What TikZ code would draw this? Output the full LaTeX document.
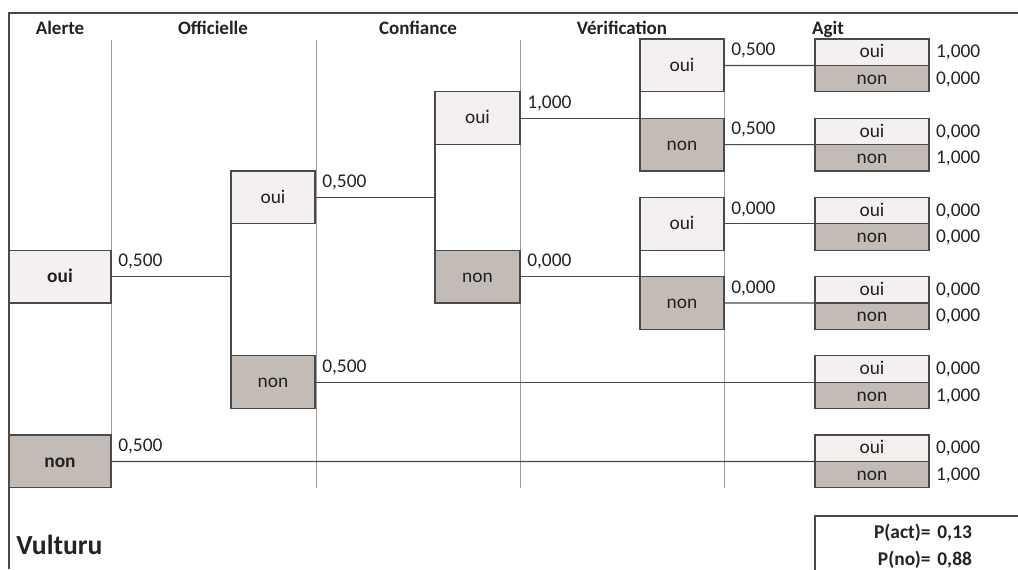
\documentclass[tikz,border=0pt]{standalone}
\usepackage{fontspec}
\setmainfont{Carlito}
\usepackage{tikz}
\usetikzlibrary{positioning}
\definecolor{vlight}{HTML}{F4F0EF}
\definecolor{vdark}{HTML}{C3BBB5}
\definecolor{vline}{HTML}{4A4A4A}
\definecolor{vsep}{HTML}{9C9C9C}
\definecolor{vtext}{HTML}{222222}

\begin{document}
\begin{tikzpicture}[x=0.5pt, y=-0.5pt, font=\fontsize{9.7}{11}\selectfont, text=vtext,
          tbox/.style={draw=vline, line width=.6pt, inner sep=0pt, outer sep=0pt, minimum height=26.4pt,
                       text height=1.45ex, text depth=.25ex},
          yes/.style={tbox, fill=vlight},
          no/.style={tbox, fill=vdark},
          agit/.style={tbox, minimum width=57pt, minimum height=13.2pt},
          val/.style={text height=1.45ex, text depth=.25ex},
          link/.style={draw=vline, line width=.6pt},
          prob/.style={above right, pos=0},
          hdr/.style={anchor=base, inner sep=0pt, font=\fontsize{9.5}{11}\selectfont\bfseries},
          ptxt/.style={inner sep=0pt, font=\fontsize{9.7}{11}\selectfont\bfseries}]
  \useasboundingbox (0,0) rectangle (1018,569);
  % cadre et colonnes
  \draw[vline, line width=1pt] (9,569) -- (9,13) -- (1018,13);
  \foreach \x in {111,316,520,724}
    \draw[vsep, line width=.4pt] (\x,40) -- (\x,488);
  \node[hdr] (halerte) at (60,34) {Alerte};
  \node[hdr] (hoff) at (213,34) {Officielle};
  \node[hdr] (hconf) at (418,34) {Confiance};
  \node[hdr] (hverif) at (622,34) {Vérification};
  \node[hdr] (hagit) at (828,34) {Agit};
  % arbre
  \node[yes, minimum width=51pt] (aoui) at (60,276.6) {\textbf{oui}};
  \node[no, minimum width=51pt] (anon) at (60,461.4) {\textbf{non}};
  \node[yes, minimum width=42pt] (ooui) at (273,197.4) {oui};
  \node[no, minimum width=42pt] (onon) at (273,382.2) {non};
  \node[yes, minimum width=42.5pt] (coui) at (477.5,118.2) {oui};
  \node[no, minimum width=42.5pt] (cnon) at (477.5,276.6) {non};
  \node[yes, minimum width=42pt] (voui1) at (682,65.4) {oui};
  \node[no, minimum width=42pt] (vnon1) at (682,144.6) {non};
  \node[yes, minimum width=42pt] (voui2) at (682,223.8) {oui};
  \node[no, minimum width=42pt] (vnon2) at (682,303) {non};
  \foreach \nm/\y/\p/\q in {a1/65.4/{1,000}/{0,000}, a2/144.6/{0,000}/{1,000}, a3/223.8/{0,000}/{0,000},
                           a4/303/{0,000}/{0,000}, a5/382.2/{0,000}/{1,000}, a6/461.4/{0,000}/{1,000}}{
    \node[agit, fill=vlight] (o\nm) at (872,\y-13.2) {oui};
    \node[agit, fill=vdark, below=0pt of o\nm] (n\nm) {non};
    \node[val, right=0pt of o\nm] (p\nm) {\p};
    \node[val, right=0pt of n\nm] (q\nm) {\q};
  }
  \draw[link] (aoui.east) -- node[prob] {0,500} (aoui.east -| ooui.west);
  \draw[link] (ooui.south west) -- (onon.north west);
  \draw[link] (anon.east) -- node[prob] {0,500} (oa6.south west);
  \draw[link] (ooui.east) -- node[prob] {0,500} (ooui.east -| coui.west);
  \draw[link] (coui.south west) -- (cnon.north west);
  \draw[link] (onon.east) -- node[prob] {0,500} (oa5.south west);
  \draw[link] (coui.east) -- node[prob] {1,000} (coui.east -| vnon1.west);
  \draw[link] (voui1.south west) -- (vnon1.north west);
  \draw[link] (cnon.east) -- node[prob] {0,000} (cnon.east -| vnon2.west);
  \draw[link] (voui2.south west) -- (vnon2.north west);
  \draw[link] (voui1.east) -- node[prob] {0,500} (oa1.south west);
  \draw[link] (vnon1.east) -- node[prob] {0,500} (oa2.south west);
  \draw[link] (voui2.east) -- node[prob] {0,000} (oa3.south west);
  \draw[link] (vnon2.east) -- node[prob] {0,000} (oa4.south west);
  % resultat
  \begin{scope}
    \clip (0,0) rectangle (1018,569);
    \draw[vline, line width=1pt, fill=white] (815,516) rectangle (1030,590);
  \end{scope}
  \node[ptxt, anchor=base east] (pact) at (931,538) {P(act)=};
  \node[ptxt, anchor=base west] (pactv) at (937,538) {0,13};
  \node[ptxt, anchor=base east] (pno) at (931,565) {P(no)=};
  \node[ptxt, anchor=base west] (pnov) at (937,565) {0,88};
  \node[anchor=base west, inner sep=0pt, font=\fontsize{13.8}{16}\selectfont\bfseries] (titre) at (16,554) {Vulturu};
\end{tikzpicture}
\end{document}
